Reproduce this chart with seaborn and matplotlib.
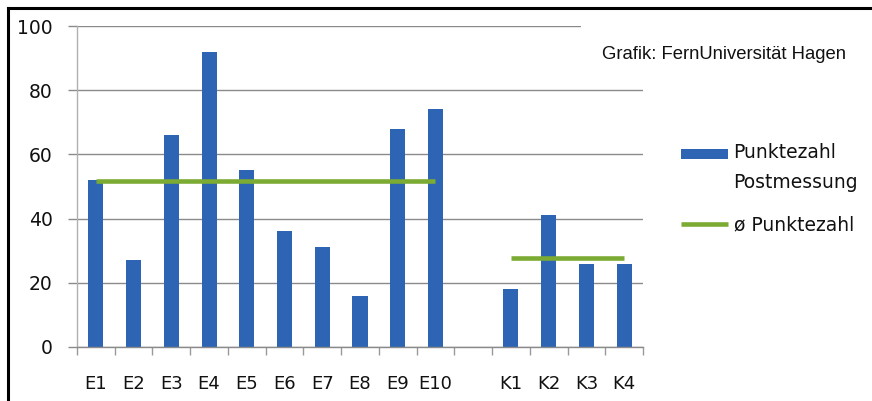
import matplotlib
matplotlib.use("Agg")
import matplotlib.pyplot as plt
import seaborn as sns
import pandas as pd
import numpy as np
from matplotlib.lines import Line2D
from matplotlib.patches import Rectangle
from matplotlib.ticker import FixedLocator
from matplotlib.legend_handler import HandlerPatch

# Scores per group (E = experimental groups, K = control groups)
e_groups = ["E1", "E2", "E3", "E4", "E5", "E6", "E7", "E8", "E9", "E10"]
e_scores = [52, 27, 66, 92, 55, 36, 31, 16, 68, 74]
k_groups = ["K1", "K2", "K3", "K4"]
k_scores = [18, 41, 26, 26]
gap = " "
order = e_groups + [gap] + k_groups

y_ticks = [0, 20, 40, 60, 80, 100]
bar_label = "Punktezahl\nPostmessung"
mean_label = "ø Punktezahl"
credit = "Grafik: FernUniversität Hagen"

BLUE = "#2d65b4"
GREEN = "#7bab33"
GRID = "#8a8a8a"

df = pd.DataFrame({"gruppe": e_groups + k_groups, "punkte": e_scores + k_scores})

sns.set_theme(style="white")
plt.rcParams["font.family"] = ["DejaVu Sans"]

W, H = 872, 401
fig = plt.figure(figsize=(W / 100, H / 100), dpi=100)
ax = fig.add_axes([77 / W, 54 / H, 566 / W, 321 / H])

sns.barplot(data=df, x="gruppe", y="punkte", order=order, color=BLUE,
            saturation=1, width=0.4, linewidth=0, ax=ax, label=bar_label,
            zorder=2)

# group means as horizontal lines spanning each group
mean_lines = []
for groups, scores in ((e_groups, e_scores), (k_groups, k_scores)):
    m = float(np.mean(scores))
    xs = [order.index(groups[0]), order.index(groups[-1])]
    mean_lines += ax.plot(xs, [m, m], color=GREEN, lw=3.3,
                          solid_capstyle="butt", zorder=3)

ax.set_xlim(-0.5, len(order) - 0.5)
ax.set_ylim(0, 100)
ax.set_yticks(y_ticks)
ax.set_xlabel("")
ax.set_ylabel("")

ax.set_axisbelow(True)
ax.yaxis.grid(True, color=GRID, lw=1.0)
ax.xaxis.grid(False)

for side in ("top", "right"):
    ax.spines[side].set_visible(False)
ax.spines["left"].set_color("#b0b0b0")
ax.spines["left"].set_linewidth(1.0)
ax.spines["bottom"].set_color(GRID)
ax.spines["bottom"].set_linewidth(1.0)

ax.tick_params(axis="y", which="major", length=6.5, width=1.0, color=GRID,
               direction="out", pad=11, labelsize=13.5, labelcolor="#111111",
               left=True)
ax.tick_params(axis="x", which="major", length=0, pad=20, labelsize=13,
               labelcolor="#111111", bottom=True)
ax.xaxis.set_minor_locator(FixedLocator(np.arange(-0.5, len(order), 1.0)))
ax.tick_params(axis="x", which="minor", length=5.8, width=1.0, color="#9a9a9a",
               direction="out", bottom=True)


# legend swatch sits level with the first line of its two-line label
def top_aligned_patch(legend, orig_handle, xdescent, ydescent, width, height, fontsize):
    return Rectangle((-xdescent, -ydescent + 0.78 * fontsize), width, height)


bar_handle = ax.containers[0].patches[0]
leg = ax.legend([bar_handle, mean_lines[0]], [bar_label, mean_label],
                loc="upper left", bbox_to_anchor=(681 / W, 1 - 143 / H),
                bbox_transform=fig.transFigure, frameon=False, fontsize=13.5,
                handlelength=2.5, handleheight=0.5, handletextpad=0.3,
                labelspacing=1.22, borderpad=0, borderaxespad=0,
                handler_map={bar_handle: HandlerPatch(patch_func=top_aligned_patch)})
for t in leg.get_texts():
    t.set_color("#111111")
    t.set_linespacing(1.75)

# white band behind the credit line
fig.add_artist(Rectangle((581 / W, 1 - 75 / H), (W - 581) / W, 60 / H,
                         transform=fig.transFigure, facecolor="white",
                         edgecolor="none", zorder=5))
fig.text(602 / W, 1 - 59 / H, credit, ha="left", va="baseline", fontsize=13.3,
         family=["Liberation Sans", "DejaVu Sans"], color="#111111", zorder=6)

# frame lines along the top and left edge
fig.add_artist(Line2D([7.5 / W, 7.5 / W], [0, 1 - 7.5 / H], color="black",
                      lw=2.2, transform=fig.transFigure, solid_capstyle="projecting"))
fig.add_artist(Line2D([7.5 / W, 1], [1 - 7.5 / H, 1 - 7.5 / H], color="black",
                      lw=2.2, transform=fig.transFigure, solid_capstyle="projecting"))

fig.savefig("out.png", dpi=100, facecolor="white")
